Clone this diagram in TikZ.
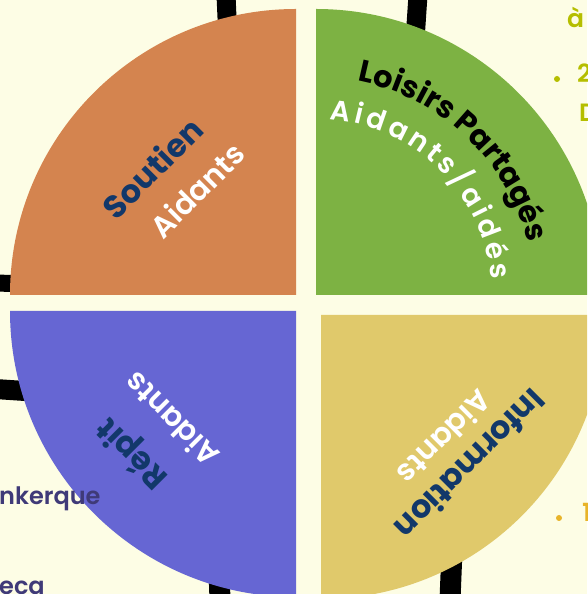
\documentclass[tikz,border=0pt]{standalone}
\usepackage{fontspec}
\setmainfont{Poppins}
\newfontfamily\semifont{Poppins SemiBold}
\usetikzlibrary{decorations.text}

\definecolor{fond}{HTML}{FDFDE5}
\definecolor{orangeq}{HTML}{D4844F}
\definecolor{vertq}{HTML}{7DB243}
\definecolor{bleuq}{HTML}{6666D3}
\definecolor{jauneq}{HTML}{E0C96B}
\definecolor{marine}{HTML}{12386A}
\definecolor{violet}{HTML}{3F3A78}
\definecolor{olive}{HTML}{B5BE00}
\definecolor{dore}{HTML}{E8B42A}

\tikzset{
  titre/.style={font=\fontsize{32}{32}\selectfont\bfseries, text=marine, inner sep=0pt},
  sous/.style={font=\fontsize{30}{30}\semifont, text=white, inner sep=0pt},
  bord/.style={font=\fontsize{24}{24}\semifont, inner sep=0pt, anchor=base west},
  puce/.style={circle, inner sep=0pt, minimum size=6pt},
  lien/.style={line width=19pt, black},
}

\begin{document}
\begin{tikzpicture}[x=1pt,y=1pt]
\useasboundingbox (0,0) rectangle (587,594);
\clip (0,0) rectangle (587,594);
\fill [fond] (0,0) rectangle (587,594);
\draw [lien] (226,599) -- (228,554);
\draw [lien] (418,599) -- (415,554);
\draw [lien, line width=17pt] (-5,311) -- (30,310);
\draw [lien, line width=20pt] (-5,205) -- (40,202);
\draw [lien, line width=21pt] (219,24) -- (220,-6);
\draw [lien, line width=21pt] (452,44) -- (450,-6);
\coordinate (cSou) at (296,299);
\coordinate (cLoi) at (316,299);
\coordinate (cRep) at (296,283);
\coordinate (cInf) at (321,279);
\foreach \c/\a/\r/\col in {cSou/90/286/orangeq, cLoi/0/286/vertq, cRep/180/286/bleuq, cInf/270/284/jauneq} {
  \fill [\col] (\c) -- ([shift={(\a:\r pt)}]\c) arc[start angle=\a, delta angle=90, radius=\r pt] -- cycle;
}
\node [titre, rotate=45] (soutien) at (152,426) {Soutien};
\node [sous, rotate=45] (soutienSub) at (197,404) {Aidants};
\node [titre, rotate=135] (repit) at (133,141) {Répit};
\node [sous, rotate=135] (repitSub) at (171,174) {Aidants};
\node [titre, rotate=-135] (info) at (471,129) {Information};
\node [sous, rotate=-135] (infoSub) at (445,156) {Aidants};
\path [decorate, decoration={text along path, text align=left,
  text={|\fontsize{30.5}{30.5}\selectfont\bfseries\color{black}|Loisirs Partagés}}]
  ([shift={(79:218pt)}]cLoi) arc[start angle=79, end angle=5, radius=218pt];
\path [decorate, decoration={text along path, text align=fit to path,
  text={|\fontsize{28}{28}\semifont\color{white}|Aidants/aidés}}]
  ([shift={(85.5:176pt)}]cLoi) arc[start angle=85.5, end angle=5, radius=176pt];
\node [bord, font=\fontsize{25}{25}\semifont, text=olive] (a) at (567,566) {à};
\node [puce, fill=olive] (puce2) at (557,515) {};
\node [bord, font=\fontsize{25}{25}\semifont, text=olive] (deux) at (577,511) {2};
\node [bord, font=\fontsize{25}{25}\semifont, text=olive] (d) at (579,472) {D};
\node [puce, fill=dore] (puce1) at (559,76) {};
\node [bord, font=\fontsize{25}{25}\semifont, text=dore] (un) at (582,72) {1};
\node [bord, text=violet] (ville) at (-1,89) {nkerque};
\node [bord, text=violet] (eca) at (-1,-1) {eca};
\end{tikzpicture}
\end{document}
